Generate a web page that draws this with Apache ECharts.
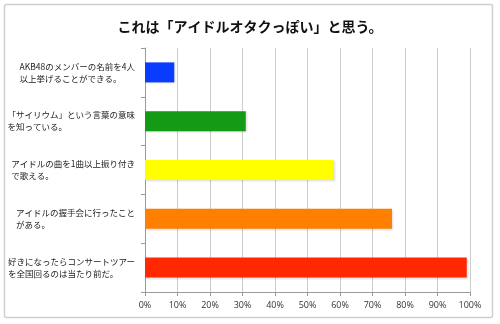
<!DOCTYPE html>
<html>
<head>
<meta charset="utf-8">
<script src="https://cdn.jsdelivr.net/npm/echarts@6/dist/echarts.min.js"></script>
<style>
  html, body { margin: 0; padding: 0; background: #fff; }
  #chart { width: 500px; height: 324px; }
</style>
</head>
<body>
<div id="chart"></div>
<script>
// Survey statements, each split into its two display lines
const categories = [
  ['AKB48のメンバーの名前を4人', '以上挙げることができる。'],
  ['「サイリウム」という言葉の意味', 'を知っている。'],
  ['アイドルの曲を1曲以上振り付き', 'で歌える。'],
  ['アイドルの握手会に行ったこと', 'がある。'],
  ['好きになったらコンサートツアー', 'を全国回るのは当たり前だ。']
];
// Share of respondents (%)
const values = [9, 31, 58, 76, 99];
const barColors = ['#0a3cff', '#149a14', '#ffff00', '#ff8000', '#ff2800'];
const xTicks = [0, 10, 20, 30, 40, 50, 60, 70, 80, 90, 100];

const chart = echarts.init(document.getElementById('chart'));
const jp = '"Noto Sans CJK JP", sans-serif';

chart.setOption({
  animation: false,
  backgroundColor: '#fff',
  title: {
    text: 'これは「アイドルオタクっぽい」と思う。',
    left: 'center',
    top: 15,
    textStyle: { fontFamily: jp, fontSize: 14, fontWeight: 'bold', color: '#111' }
  },
  graphic: [{
    type: 'rect',
    shape: { x: 4.5, y: 4.5, width: 488, height: 313, r: 2 },
    style: { fill: 'none', stroke: '#cfcfcf', lineWidth: 1.5 },
    silent: true
  }],
  grid: { left: 145, right: 30, top: 48, bottom: 32, outerBoundsMode: 'none', containLabel: false },
  xAxis: {
    type: 'value',
    min: xTicks[0],
    max: xTicks[xTicks.length - 1],
    interval: 10,
    axisLine: { show: true, lineStyle: { color: '#9a9a9a' } },
    axisTick: { show: true, length: 4, lineStyle: { color: '#9a9a9a' } },
    splitLine: { show: true, lineStyle: { color: '#cccccc', width: 1 } },
    axisLabel: {
      formatter: v => v + '%',
      fontFamily: '"Open Sans", sans-serif',
      fontSize: 9,
      color: '#333',
      margin: 9
    }
  },
  yAxis: {
    type: 'category',
    inverse: true,
    data: categories.map(c => c.join('\n')),
    axisLine: { show: true, lineStyle: { color: '#9a9a9a' } },
    axisTick: { show: true, length: 4, lineStyle: { color: '#9a9a9a' } },
    axisLabel: {
      margin: 10,
      align: 'right',
      formatter: v => v.split('\n').map(s => '{l|' + s + '}').join('\n'),
      rich: {
        l: { fontFamily: jp, fontSize: 8.5, color: '#222', align: 'left', lineHeight: 12 }
      }
    }
  },
  series: [{
    type: 'bar',
    data: values.map((v, i) => ({ value: v, itemStyle: { color: barColors[i] } })),
    barWidth: 20,
    itemStyle: {
      shadowColor: 'rgba(0,0,0,0.15)',
      shadowBlur: 2,
      shadowOffsetX: 1,
      shadowOffsetY: 1
    }
  }]
});
</script>
</body>
</html>
